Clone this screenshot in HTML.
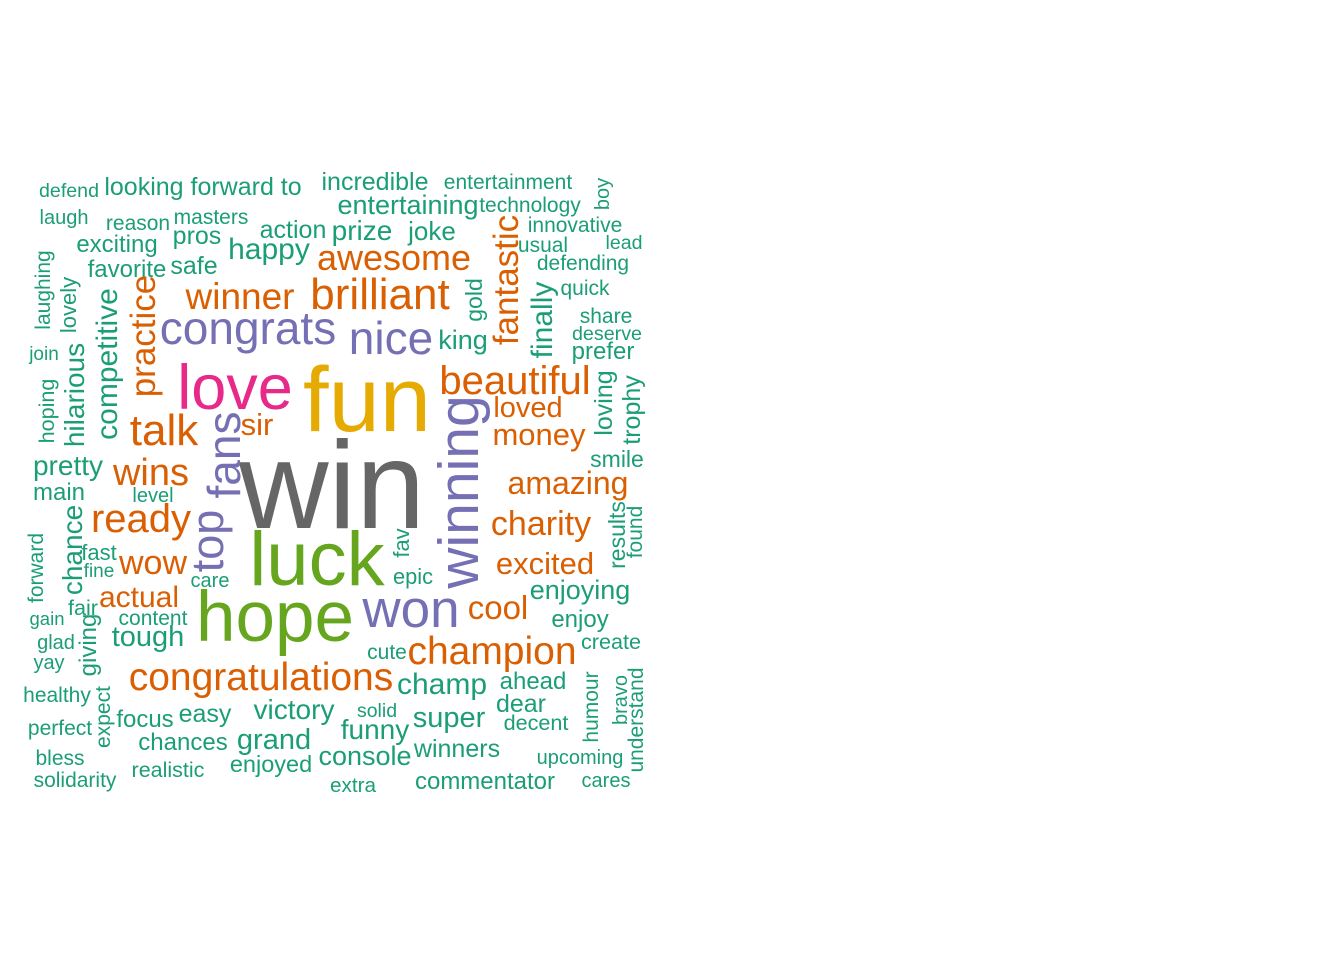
<!DOCTYPE html>
<html>
<head>
<meta charset="utf-8">
<style>
  html, body { margin: 0; padding: 0; background: #ffffff; }
  #chart { display: block; }
  text { font-family: "Liberation Sans", Arial, sans-serif; }
</style>
</head>
<body>
<svg id="chart" width="1344" height="960" viewBox="0 0 1344 960" xmlns="http://www.w3.org/2000/svg">
  <rect x="0" y="0" width="1344" height="960" fill="#ffffff"></rect>
  <g id="words"></g>
</svg>
<script>
// Word data: text, font size (frequency weight), colour group
const words = ["win","fun","luck","hope","love","winning","won","congrats","nice","fans","top","talk","brilliant","congratulations","champion","beautiful","awesome","winner","ready","wins","fantastic","practice","wow","cool","charity","excited","amazing","money","loved","finally","actual","sir","competitive","hilarious","chance","tough","happy","champ","victory","grand","enjoying","super","console","funny","entertaining","prize","action","joke","king","pretty","incredible","looking forward to","entertainment","technology","innovative","defending","masters","exciting","pros","favorite","safe","commentator","winners","chances","easy","focus","enjoyed","ahead","dear","decent","enjoy","smile","prefer","share","deserve","quick","usual","lead","create","upcoming","cares","extra","solid","cute","epic","realistic","content","care","level","main","fast","fine","fair","gain","glad","yay","healthy","perfect","bless","solidarity","defend","laugh","reason","join","laughing","lovely","hoping","forward","giving","expect","gold","boy","fav","loving","trophy","results","found","humour","bravo","understand"];
const sizes = [124,92,76,71,63,57,53,46,46,46,45,44,44,39,39,40,36,37,40,38,35,35,34,33,34,31,32,31,29,30,30,31,30,28,28,29,30,30,28,29,27,29,27,28,27,28,25,26,27,28,25,25,21,21,21,21,21,24,25,24,25,24,25,24,25,24,23.5,24,25,21.6,24,23,24,21,19.7,21,21,19.6,21.6,20,20,20.7,19.5,21,21.8,21.5,21,20,20,24,22,19,21.6,18.5,20,20,21,21,21,21,19.6,20,21,19,21,22,21.6,21,24,21,23,20,22,25,25,23,21,21,20,21];
const groups = ["gray","gold","green","green","pink","purple","purple","purple","purple","purple","purple","orange","orange","orange","orange","orange","orange","orange","orange","orange","orange","orange","orange","orange","orange","orange","orange","orange","orange","teal","orange","orange"];
// Layout (placement from the cloud algorithm): x centre / baseline, rotation
const layoutX = [332,367,317,275,235,478,411,248,391,240,223,164,380,261,492,515,394,240,141,151,518,155,153,498,541,545,568,539,528,552,139,257,117,84,82,148,269,442,294,274,580,449,365,375,408,362,293,432,463,68,375,203,508,530,575,583,211,117,197,127,194,485,457,183,205,145,271,533,521,536,580,617,603,606,607,585,543,624,611,580,606,353,377,387,413,168,153,210,153,59,99,99,83,47,56,49,57,60,60,75,69,64,138,44,50,76,54,43,96,110,482,609,409,612,640,625,642,598,627,643];
const layoutY = [526,429,583,639,407,492,625,342,352,455,541,443,307,688,662,392,268,307,530,483,280,336,572,617,533,572,492,443,415,320,605,433,364,395,550,644,257,692,717,747,597,725,763,737,212,238,236,238,347,473,188,193,187,210,230,268,222,250,242,275,272,787,755,748,720,725,770,687,710,728,625,465,357,321,338,293,250,247,647,762,785,790,715,657,582,775,623,585,500,498,558,575,613,623,647,667,700,733,763,785,195,222,228,358,290,305,411,568,645,717,300,194,543,403,410,535,532,707,700,720];
const rotated = [0,0,0,0,0,1,0,0,0,1,1,0,0,0,0,0,0,0,0,0,1,1,0,0,0,0,0,0,0,1,0,0,1,1,1,0,0,0,0,0,0,0,0,0,0,0,0,0,0,0,0,0,0,0,0,0,0,0,0,0,0,0,0,0,0,0,0,0,0,0,0,0,0,0,0,0,0,0,0,0,0,0,0,0,0,0,0,0,0,0,0,0,0,0,0,0,0,0,0,0,0,0,0,0,1,1,1,1,1,1,1,1,1,1,1,1,1,1,1,1];

const palette = {gray:"#666666", gold:"#e6ab02", green:"#66a61e", pink:"#e7298a", purple:"#7570b3", orange:"#d95f02", teal:"#1b9e77"};
const NS = "http://www.w3.org/2000/svg";
const g = document.getElementById("words");

for (let i = 0; i < words.length; i++) {
  const t = document.createElementNS(NS, "text");
  
  
  t.setAttribute("font-size", sizes[i]);
  t.setAttribute("fill", palette[groups[i] || "teal"]);
  t.setAttribute("text-anchor", "middle");
  if (rotated[i]) {
    t.setAttribute("x", 0);
    t.setAttribute("y", 0);
    t.setAttribute("transform", "translate(" + layoutX[i] + "," + layoutY[i] + ") rotate(-90)");
  } else {
    t.setAttribute("x", layoutX[i]);
    t.setAttribute("y", layoutY[i] + 2);
  }
  t.textContent = words[i];
  g.appendChild(t);
}
</script>
</body>
</html>
